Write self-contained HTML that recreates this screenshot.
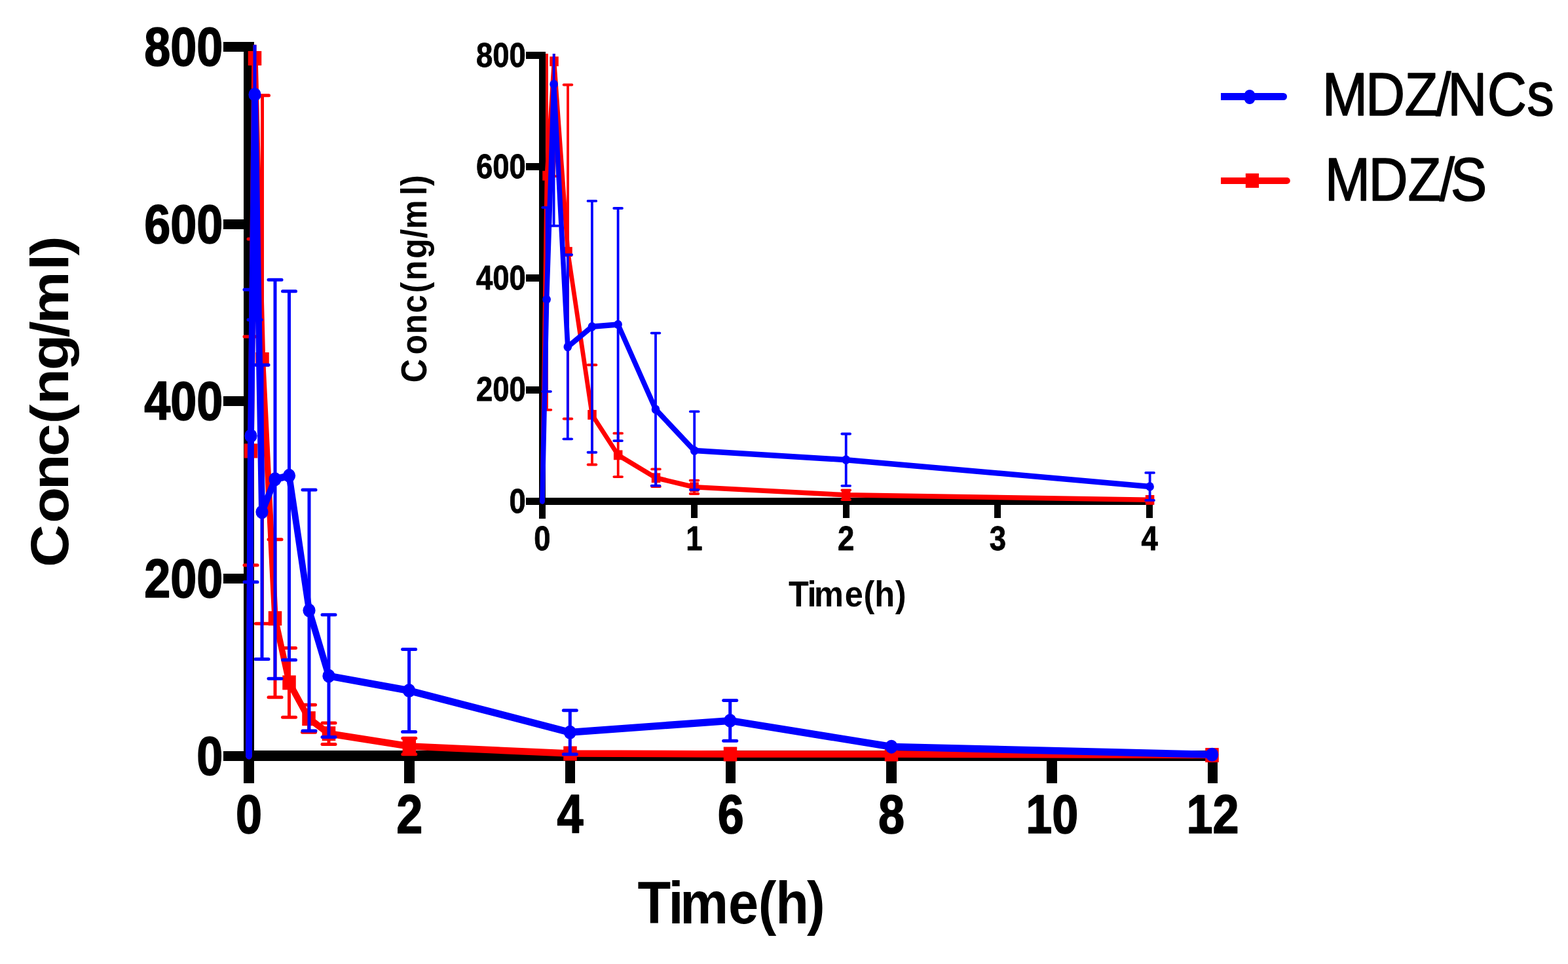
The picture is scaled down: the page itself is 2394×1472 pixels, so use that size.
<!DOCTYPE html><html><head><meta charset="utf-8"><style>html,body{margin:0;padding:0;background:#fff;overflow:hidden}svg{display:block}text{font-family:"Liberation Sans",Arial,sans-serif;fill:#000}</style></head><body>
<svg width="2394" height="1472" viewBox="0 0 2394 1472">
<rect width="2394" height="1472" fill="#fff"/>
<defs><clipPath id="cm"><rect x="300" y="68.5" width="1700" height="1200"/></clipPath><clipPath id="ci"><rect x="780" y="82" width="1100" height="800"/></clipPath></defs>
<g fill="#000" shape-rendering="crispEdges">
<rect x="372" y="64" width="16" height="1132"/>
<rect x="341" y="1146.50" width="32" height="15"/>
<rect x="341" y="875.84" width="32" height="15"/>
<rect x="341" y="605.18" width="32" height="15"/>
<rect x="341" y="334.51" width="32" height="15"/>
<rect x="341" y="63.85" width="32" height="15"/>
<rect x="372" y="1146" width="1487" height="16"/>
<rect x="372.25" y="1154" width="15.5" height="42"/>
<rect x="617.49" y="1154" width="15.5" height="42"/>
<rect x="862.73" y="1154" width="15.5" height="42"/>
<rect x="1107.97" y="1154" width="15.5" height="42"/>
<rect x="1353.21" y="1154" width="15.5" height="42"/>
<rect x="1598.45" y="1154" width="15.5" height="42"/>
<rect x="1843.69" y="1154" width="15.5" height="42"/>
</g>
<text transform="translate(340.30,1182.70) scale(0.72,0.838)" font-size="100" font-weight="bold" text-anchor="end" stroke="#000" stroke-width="2.0" stroke-linejoin="round">0</text>
<text transform="translate(340.30,912.04) scale(0.72,0.838)" font-size="100" font-weight="bold" text-anchor="end" stroke="#000" stroke-width="2.0" stroke-linejoin="round">200</text>
<text transform="translate(340.30,641.38) scale(0.72,0.838)" font-size="100" font-weight="bold" text-anchor="end" stroke="#000" stroke-width="2.0" stroke-linejoin="round">400</text>
<text transform="translate(340.30,370.71) scale(0.72,0.838)" font-size="100" font-weight="bold" text-anchor="end" stroke="#000" stroke-width="2.0" stroke-linejoin="round">600</text>
<text transform="translate(340.30,100.05) scale(0.72,0.838)" font-size="100" font-weight="bold" text-anchor="end" stroke="#000" stroke-width="2.0" stroke-linejoin="round">800</text>
<text transform="translate(380.00,1271.90) scale(0.72,0.838)" font-size="100" font-weight="bold" text-anchor="middle" stroke="#000" stroke-width="2.0" stroke-linejoin="round">0</text>
<text transform="translate(625.24,1271.90) scale(0.72,0.838)" font-size="100" font-weight="bold" text-anchor="middle" stroke="#000" stroke-width="2.0" stroke-linejoin="round">2</text>
<text transform="translate(870.48,1271.90) scale(0.72,0.838)" font-size="100" font-weight="bold" text-anchor="middle" stroke="#000" stroke-width="2.0" stroke-linejoin="round">4</text>
<text transform="translate(1115.72,1271.90) scale(0.72,0.838)" font-size="100" font-weight="bold" text-anchor="middle" stroke="#000" stroke-width="2.0" stroke-linejoin="round">6</text>
<text transform="translate(1360.96,1271.90) scale(0.72,0.838)" font-size="100" font-weight="bold" text-anchor="middle" stroke="#000" stroke-width="2.0" stroke-linejoin="round">8</text>
<text transform="translate(1606.20,1271.90) scale(0.72,0.838)" font-size="100" font-weight="bold" text-anchor="middle" stroke="#000" stroke-width="2.0" stroke-linejoin="round">10</text>
<text transform="translate(1851.44,1271.90) scale(0.72,0.838)" font-size="100" font-weight="bold" text-anchor="middle" stroke="#000" stroke-width="2.0" stroke-linejoin="round">12</text>
<text transform="translate(0,1409.80) scale(0.83000,0.91500)" x="1172.80 1229.41 1251.05 1339.79 1394.83 1426.78 1484.45" y="0" font-size="100" font-weight="bold">Time(h)</text>
<text transform="translate(103.90,0) rotate(-90) scale(0.90000,0.81500)" x="-962.20 -887.49 -831.36 -774.37 -719.09 -686.36 -628.35 -572.37 -549.39 -458.68 -433.73" y="0" font-size="100" font-weight="bold">Conc(ng/ml)</text>
<g clip-path="url(#cm)">
<line x1="383.00" y1="863.04" x2="383.00" y2="513.88" stroke="#ff0000" stroke-width="5"/>
<line x1="373.00" y1="863.04" x2="393.00" y2="863.04" stroke="#ff0000" stroke-width="5" stroke-linecap="round"/>
<line x1="373.00" y1="513.88" x2="393.00" y2="513.88" stroke="#ff0000" stroke-width="5" stroke-linecap="round"/>
<line x1="389.00" y1="365.02" x2="389.00" y2="-187.13" stroke="#ff0000" stroke-width="5"/>
<line x1="379.00" y1="365.02" x2="399.00" y2="365.02" stroke="#ff0000" stroke-width="5" stroke-linecap="round"/>
<line x1="379.00" y1="-187.13" x2="399.00" y2="-187.13" stroke="#ff0000" stroke-width="5" stroke-linecap="round"/>
<line x1="400.50" y1="952.36" x2="400.50" y2="145.78" stroke="#ff0000" stroke-width="5"/>
<line x1="390.50" y1="952.36" x2="410.50" y2="952.36" stroke="#ff0000" stroke-width="5" stroke-linecap="round"/>
<line x1="390.50" y1="145.78" x2="410.50" y2="145.78" stroke="#ff0000" stroke-width="5" stroke-linecap="round"/>
<line x1="420.00" y1="1064.68" x2="420.00" y2="823.79" stroke="#ff0000" stroke-width="5"/>
<line x1="410.00" y1="1064.68" x2="430.00" y2="1064.68" stroke="#ff0000" stroke-width="5" stroke-linecap="round"/>
<line x1="410.00" y1="823.79" x2="430.00" y2="823.79" stroke="#ff0000" stroke-width="5" stroke-linecap="round"/>
<line x1="441.50" y1="1095.13" x2="441.50" y2="989.57" stroke="#ff0000" stroke-width="5"/>
<line x1="431.50" y1="1095.13" x2="451.50" y2="1095.13" stroke="#ff0000" stroke-width="5" stroke-linecap="round"/>
<line x1="431.50" y1="989.57" x2="451.50" y2="989.57" stroke="#ff0000" stroke-width="5" stroke-linecap="round"/>
<line x1="471.50" y1="1118.14" x2="471.50" y2="1076.18" stroke="#ff0000" stroke-width="5"/>
<line x1="461.50" y1="1118.14" x2="481.50" y2="1118.14" stroke="#ff0000" stroke-width="5" stroke-linecap="round"/>
<line x1="461.50" y1="1076.18" x2="481.50" y2="1076.18" stroke="#ff0000" stroke-width="5" stroke-linecap="round"/>
<line x1="502.00" y1="1136.41" x2="502.00" y2="1103.93" stroke="#ff0000" stroke-width="5"/>
<line x1="492.00" y1="1136.41" x2="512.00" y2="1136.41" stroke="#ff0000" stroke-width="5" stroke-linecap="round"/>
<line x1="492.00" y1="1103.93" x2="512.00" y2="1103.93" stroke="#ff0000" stroke-width="5" stroke-linecap="round"/>
<line x1="624.80" y1="1151.70" x2="624.80" y2="1127.34" stroke="#ff0000" stroke-width="5"/>
<line x1="614.80" y1="1151.70" x2="634.80" y2="1151.70" stroke="#ff0000" stroke-width="5" stroke-linecap="round"/>
<line x1="614.80" y1="1127.34" x2="634.80" y2="1127.34" stroke="#ff0000" stroke-width="5" stroke-linecap="round"/>
<path transform="scale(0.9,1)" d="M422.22,1154.00 L425.56,688.46 L432.22,88.95 L445.00,549.07 L466.67,944.24 L490.56,1042.35 L523.89,1097.16 L557.78,1120.17 L694.22,1139.52 L967.22,1150.48 L1238.89,1151.50 L1512.22,1151.56 L2056.11,1153.05" fill="none" stroke="#ff0000" stroke-width="10.5" stroke-linejoin="round" stroke-linecap="round"/>
<rect x="372.75" y="677.46" width="20.5" height="22" fill="#ff0000"/>
<rect x="378.75" y="77.95" width="20.5" height="22" fill="#ff0000"/>
<rect x="390.25" y="538.07" width="20.5" height="22" fill="#ff0000"/>
<rect x="409.75" y="933.24" width="20.5" height="22" fill="#ff0000"/>
<rect x="431.25" y="1031.35" width="20.5" height="22" fill="#ff0000"/>
<rect x="461.25" y="1086.16" width="20.5" height="22" fill="#ff0000"/>
<rect x="491.75" y="1109.17" width="20.5" height="22" fill="#ff0000"/>
<rect x="614.55" y="1128.52" width="20.5" height="22" fill="#ff0000"/>
<rect x="860.25" y="1139.48" width="20.5" height="22" fill="#ff0000"/>
<rect x="1104.75" y="1140.50" width="20.5" height="22" fill="#ff0000"/>
<rect x="1350.75" y="1140.56" width="20.5" height="22" fill="#ff0000"/>
<rect x="1840.25" y="1142.05" width="20.5" height="22" fill="#ff0000"/>
</g>
<g clip-path="url(#cm)">
<line x1="383.00" y1="888.75" x2="383.00" y2="442.16" stroke="#0000ff" stroke-width="5.0"/>
<line x1="373.00" y1="888.75" x2="393.00" y2="888.75" stroke="#0000ff" stroke-width="5" stroke-linecap="round"/>
<line x1="373.00" y1="442.16" x2="393.00" y2="442.16" stroke="#0000ff" stroke-width="5" stroke-linecap="round"/>
<line x1="389.00" y1="488.17" x2="389.00" y2="-199.31" stroke="#0000ff" stroke-width="5.0"/>
<line x1="379.00" y1="488.17" x2="399.00" y2="488.17" stroke="#0000ff" stroke-width="5" stroke-linecap="round"/>
<line x1="379.00" y1="-199.31" x2="399.00" y2="-199.31" stroke="#0000ff" stroke-width="5" stroke-linecap="round"/>
<line x1="400.00" y1="1006.49" x2="400.00" y2="557.19" stroke="#0000ff" stroke-width="5.0"/>
<line x1="390.00" y1="1006.49" x2="410.00" y2="1006.49" stroke="#0000ff" stroke-width="5" stroke-linecap="round"/>
<line x1="390.00" y1="557.19" x2="410.00" y2="557.19" stroke="#0000ff" stroke-width="5" stroke-linecap="round"/>
<line x1="420.00" y1="1036.26" x2="420.00" y2="427.27" stroke="#0000ff" stroke-width="5.0"/>
<line x1="410.00" y1="1036.26" x2="430.00" y2="1036.26" stroke="#0000ff" stroke-width="5" stroke-linecap="round"/>
<line x1="410.00" y1="427.27" x2="430.00" y2="427.27" stroke="#0000ff" stroke-width="5" stroke-linecap="round"/>
<line x1="441.50" y1="1007.84" x2="441.50" y2="444.87" stroke="#0000ff" stroke-width="5.0"/>
<line x1="431.50" y1="1007.84" x2="451.50" y2="1007.84" stroke="#0000ff" stroke-width="5" stroke-linecap="round"/>
<line x1="431.50" y1="444.87" x2="451.50" y2="444.87" stroke="#0000ff" stroke-width="5" stroke-linecap="round"/>
<line x1="472.00" y1="1116.11" x2="472.00" y2="748.01" stroke="#0000ff" stroke-width="5.0"/>
<line x1="462.00" y1="1116.11" x2="482.00" y2="1116.11" stroke="#0000ff" stroke-width="5" stroke-linecap="round"/>
<line x1="462.00" y1="748.01" x2="482.00" y2="748.01" stroke="#0000ff" stroke-width="5" stroke-linecap="round"/>
<line x1="502.00" y1="1125.58" x2="502.00" y2="938.82" stroke="#0000ff" stroke-width="5.0"/>
<line x1="492.00" y1="1125.58" x2="512.00" y2="1125.58" stroke="#0000ff" stroke-width="5" stroke-linecap="round"/>
<line x1="492.00" y1="938.82" x2="512.00" y2="938.82" stroke="#0000ff" stroke-width="5" stroke-linecap="round"/>
<line x1="624.60" y1="1117.46" x2="624.60" y2="991.60" stroke="#0000ff" stroke-width="5.0"/>
<line x1="614.60" y1="1117.46" x2="634.60" y2="1117.46" stroke="#0000ff" stroke-width="5" stroke-linecap="round"/>
<line x1="614.60" y1="991.60" x2="634.60" y2="991.60" stroke="#0000ff" stroke-width="5" stroke-linecap="round"/>
<line x1="870.30" y1="1151.70" x2="870.30" y2="1084.85" stroke="#0000ff" stroke-width="5.0"/>
<line x1="860.30" y1="1151.70" x2="880.30" y2="1151.70" stroke="#0000ff" stroke-width="5" stroke-linecap="round"/>
<line x1="860.30" y1="1084.85" x2="880.30" y2="1084.85" stroke="#0000ff" stroke-width="5" stroke-linecap="round"/>
<line x1="1114.70" y1="1131.26" x2="1114.70" y2="1069.55" stroke="#0000ff" stroke-width="5.0"/>
<line x1="1104.70" y1="1131.26" x2="1124.70" y2="1131.26" stroke="#0000ff" stroke-width="5" stroke-linecap="round"/>
<line x1="1104.70" y1="1069.55" x2="1124.70" y2="1069.55" stroke="#0000ff" stroke-width="5" stroke-linecap="round"/>
<path transform="scale(0.9,1)" d="M422.22,1154.00 L425.56,665.46 L432.22,144.43 L444.44,781.84 L466.67,731.77 L490.56,726.35 L524.44,932.06 L557.78,1032.20 L694.00,1054.53 L967.00,1118.27 L1238.56,1100.41 L1512.22,1140.20 L2056.22,1152.24" fill="none" stroke="#0000ff" stroke-width="11" stroke-linejoin="round" stroke-linecap="round"/>
<ellipse cx="383.00" cy="665.46" rx="9.6" ry="10.5" fill="#0000ff"/>
<ellipse cx="389.00" cy="144.43" rx="9.6" ry="10.5" fill="#0000ff"/>
<ellipse cx="400.00" cy="781.84" rx="9.6" ry="10.5" fill="#0000ff"/>
<ellipse cx="420.00" cy="731.77" rx="9.6" ry="10.5" fill="#0000ff"/>
<ellipse cx="441.50" cy="726.35" rx="9.6" ry="10.5" fill="#0000ff"/>
<ellipse cx="472.00" cy="932.06" rx="9.6" ry="10.5" fill="#0000ff"/>
<ellipse cx="502.00" cy="1032.20" rx="9.6" ry="10.5" fill="#0000ff"/>
<ellipse cx="624.60" cy="1054.53" rx="9.6" ry="10.5" fill="#0000ff"/>
<ellipse cx="870.30" cy="1118.27" rx="9.6" ry="10.5" fill="#0000ff"/>
<ellipse cx="1114.70" cy="1100.41" rx="9.6" ry="10.5" fill="#0000ff"/>
<ellipse cx="1361.00" cy="1140.20" rx="9.6" ry="10.5" fill="#0000ff"/>
<ellipse cx="1850.60" cy="1152.24" rx="9.6" ry="10.5" fill="#0000ff"/>
</g>
<g fill="#000" shape-rendering="crispEdges">
<rect x="823" y="79" width="10" height="713"/>
<rect x="803" y="760.00" width="21" height="11"/>
<rect x="803" y="589.72" width="21" height="11"/>
<rect x="803" y="419.45" width="21" height="11"/>
<rect x="803" y="249.17" width="21" height="11"/>
<rect x="803" y="78.90" width="21" height="11"/>
<rect x="823" y="760.3" width="938" height="10.5"/>
<rect x="823.00" y="765" width="10" height="26.3"/>
<rect x="1054.80" y="765" width="10" height="26.3"/>
<rect x="1286.60" y="765" width="10" height="26.3"/>
<rect x="1518.40" y="765" width="10" height="26.3"/>
<rect x="1750.20" y="765" width="10" height="26.3"/>
</g>
<text transform="translate(802.80,782.70) scale(0.455,0.51)" font-size="100" font-weight="bold" text-anchor="end" stroke="#000" stroke-width="1.6" stroke-linejoin="round">0</text>
<text transform="translate(802.80,612.42) scale(0.455,0.51)" font-size="100" font-weight="bold" text-anchor="end" stroke="#000" stroke-width="1.6" stroke-linejoin="round">200</text>
<text transform="translate(802.80,442.15) scale(0.455,0.51)" font-size="100" font-weight="bold" text-anchor="end" stroke="#000" stroke-width="1.6" stroke-linejoin="round">400</text>
<text transform="translate(802.80,271.87) scale(0.455,0.51)" font-size="100" font-weight="bold" text-anchor="end" stroke="#000" stroke-width="1.6" stroke-linejoin="round">600</text>
<text transform="translate(802.80,101.60) scale(0.455,0.51)" font-size="100" font-weight="bold" text-anchor="end" stroke="#000" stroke-width="1.6" stroke-linejoin="round">800</text>
<text transform="translate(828.00,839.80) scale(0.455,0.51)" font-size="100" font-weight="bold" text-anchor="middle" stroke="#000" stroke-width="1.6" stroke-linejoin="round">0</text>
<text transform="translate(1059.80,839.80) scale(0.455,0.51)" font-size="100" font-weight="bold" text-anchor="middle" stroke="#000" stroke-width="1.6" stroke-linejoin="round">1</text>
<text transform="translate(1291.60,839.80) scale(0.455,0.51)" font-size="100" font-weight="bold" text-anchor="middle" stroke="#000" stroke-width="1.6" stroke-linejoin="round">2</text>
<text transform="translate(1523.40,839.80) scale(0.455,0.51)" font-size="100" font-weight="bold" text-anchor="middle" stroke="#000" stroke-width="1.6" stroke-linejoin="round">3</text>
<text transform="translate(1755.20,839.80) scale(0.455,0.51)" font-size="100" font-weight="bold" text-anchor="middle" stroke="#000" stroke-width="1.6" stroke-linejoin="round">4</text>
<text transform="translate(0,925.80) scale(0.50500,0.55600)" x="2383.98 2440.51 2461.37 2554.04 2610.77 2644.12 2706.41" y="0" font-size="100" font-weight="bold">Time(h)</text>
<text transform="translate(651.00,0) rotate(-90) scale(0.50000,0.55500)" x="-1168.40 -1083.24 -1020.45 -955.96 -894.53 -856.35 -789.34 -727.42 -699.37 -596.64 -568.18" y="0" font-size="100" font-weight="bold">Conc(ng/ml)</text>
<g clip-path="url(#ci)">
<line x1="835.00" y1="625.87" x2="835.00" y2="-256.16" stroke="#ff0000" stroke-width="3.8"/>
<line x1="828.65" y1="625.87" x2="841.35" y2="625.87" stroke="#ff0000" stroke-width="3.8" stroke-linecap="round"/>
<line x1="828.65" y1="-256.16" x2="841.35" y2="-256.16" stroke="#ff0000" stroke-width="3.8" stroke-linecap="round"/>
<line x1="846.00" y1="269.15" x2="846.00" y2="-81.62" stroke="#ff0000" stroke-width="3.8"/>
<line x1="839.65" y1="269.15" x2="852.35" y2="269.15" stroke="#ff0000" stroke-width="3.8" stroke-linecap="round"/>
<line x1="839.65" y1="-81.62" x2="852.35" y2="-81.62" stroke="#ff0000" stroke-width="3.8" stroke-linecap="round"/>
<line x1="867.00" y1="639.50" x2="867.00" y2="129.52" stroke="#ff0000" stroke-width="3.8"/>
<line x1="860.65" y1="639.50" x2="873.35" y2="639.50" stroke="#ff0000" stroke-width="3.8" stroke-linecap="round"/>
<line x1="860.65" y1="129.52" x2="873.35" y2="129.52" stroke="#ff0000" stroke-width="3.8" stroke-linecap="round"/>
<line x1="904.00" y1="709.48" x2="904.00" y2="557.25" stroke="#ff0000" stroke-width="3.8"/>
<line x1="897.65" y1="709.48" x2="910.35" y2="709.48" stroke="#ff0000" stroke-width="3.8" stroke-linecap="round"/>
<line x1="897.65" y1="557.25" x2="910.35" y2="557.25" stroke="#ff0000" stroke-width="3.8" stroke-linecap="round"/>
<line x1="943.70" y1="728.04" x2="943.70" y2="661.63" stroke="#ff0000" stroke-width="3.8"/>
<line x1="937.35" y1="728.04" x2="950.05" y2="728.04" stroke="#ff0000" stroke-width="3.8" stroke-linecap="round"/>
<line x1="937.35" y1="661.63" x2="950.05" y2="661.63" stroke="#ff0000" stroke-width="3.8" stroke-linecap="round"/>
<line x1="1001.50" y1="743.02" x2="1001.50" y2="716.46" stroke="#ff0000" stroke-width="3.8"/>
<line x1="995.15" y1="743.02" x2="1007.85" y2="743.02" stroke="#ff0000" stroke-width="3.8" stroke-linecap="round"/>
<line x1="995.15" y1="716.46" x2="1007.85" y2="716.46" stroke="#ff0000" stroke-width="3.8" stroke-linecap="round"/>
<line x1="1060.00" y1="754.01" x2="1060.00" y2="733.57" stroke="#ff0000" stroke-width="3.8"/>
<line x1="1053.65" y1="754.01" x2="1066.35" y2="754.01" stroke="#ff0000" stroke-width="3.8" stroke-linecap="round"/>
<line x1="1053.65" y1="733.57" x2="1066.35" y2="733.57" stroke="#ff0000" stroke-width="3.8" stroke-linecap="round"/>
<line x1="1291.70" y1="763.12" x2="1291.70" y2="748.47" stroke="#ff0000" stroke-width="3.8"/>
<line x1="1285.35" y1="763.12" x2="1298.05" y2="763.12" stroke="#ff0000" stroke-width="3.8" stroke-linecap="round"/>
<line x1="1285.35" y1="748.47" x2="1298.05" y2="748.47" stroke="#ff0000" stroke-width="3.8" stroke-linecap="round"/>
<path transform="scale(0.9,1)" d="M920.00,765.50 L927.78,268.29 L940.00,93.76 L963.33,384.51 L1004.44,633.37 L1048.56,694.84 L1112.78,729.74 L1177.78,743.79 L1435.22,755.79 L1950.67,763.37" fill="none" stroke="#ff0000" stroke-width="7.5" stroke-linejoin="round" stroke-linecap="round"/>
<rect x="828.25" y="260.89" width="13.5" height="14.8" fill="#ff0000"/>
<rect x="839.25" y="86.36" width="13.5" height="14.8" fill="#ff0000"/>
<rect x="860.25" y="377.11" width="13.5" height="14.8" fill="#ff0000"/>
<rect x="897.25" y="625.97" width="13.5" height="14.8" fill="#ff0000"/>
<rect x="936.95" y="687.44" width="13.5" height="14.8" fill="#ff0000"/>
<rect x="994.75" y="722.34" width="13.5" height="14.8" fill="#ff0000"/>
<rect x="1053.25" y="736.39" width="13.5" height="14.8" fill="#ff0000"/>
<rect x="1284.95" y="748.39" width="13.5" height="14.8" fill="#ff0000"/>
<rect x="1748.85" y="755.97" width="13.5" height="14.8" fill="#ff0000"/>
</g>
<g clip-path="url(#ci)">
<line x1="834.60" y1="597.78" x2="834.60" y2="316.82" stroke="#0000ff" stroke-width="3.8"/>
<line x1="828.25" y1="597.78" x2="840.95" y2="597.78" stroke="#0000ff" stroke-width="3.8" stroke-linecap="round"/>
<line x1="828.25" y1="316.82" x2="840.95" y2="316.82" stroke="#0000ff" stroke-width="3.8" stroke-linecap="round"/>
<line x1="845.60" y1="344.92" x2="845.60" y2="-87.58" stroke="#0000ff" stroke-width="3.8"/>
<line x1="839.25" y1="344.92" x2="851.95" y2="344.92" stroke="#0000ff" stroke-width="3.8" stroke-linecap="round"/>
<line x1="839.25" y1="-87.58" x2="851.95" y2="-87.58" stroke="#0000ff" stroke-width="3.8" stroke-linecap="round"/>
<line x1="866.80" y1="670.32" x2="866.80" y2="389.02" stroke="#0000ff" stroke-width="3.8"/>
<line x1="860.45" y1="670.32" x2="873.15" y2="670.32" stroke="#0000ff" stroke-width="3.8" stroke-linecap="round"/>
<line x1="860.45" y1="389.02" x2="873.15" y2="389.02" stroke="#0000ff" stroke-width="3.8" stroke-linecap="round"/>
<line x1="903.90" y1="690.75" x2="903.90" y2="306.95" stroke="#0000ff" stroke-width="3.8"/>
<line x1="897.55" y1="690.75" x2="910.25" y2="690.75" stroke="#0000ff" stroke-width="3.8" stroke-linecap="round"/>
<line x1="897.55" y1="306.95" x2="910.25" y2="306.95" stroke="#0000ff" stroke-width="3.8" stroke-linecap="round"/>
<line x1="943.60" y1="673.04" x2="943.60" y2="318.01" stroke="#0000ff" stroke-width="3.8"/>
<line x1="937.25" y1="673.04" x2="949.95" y2="673.04" stroke="#0000ff" stroke-width="3.8" stroke-linecap="round"/>
<line x1="937.25" y1="318.01" x2="949.95" y2="318.01" stroke="#0000ff" stroke-width="3.8" stroke-linecap="round"/>
<line x1="1001.00" y1="741.66" x2="1001.00" y2="508.55" stroke="#0000ff" stroke-width="3.8"/>
<line x1="994.65" y1="741.66" x2="1007.35" y2="741.66" stroke="#0000ff" stroke-width="3.8" stroke-linecap="round"/>
<line x1="994.65" y1="508.55" x2="1007.35" y2="508.55" stroke="#0000ff" stroke-width="3.8" stroke-linecap="round"/>
<line x1="1060.20" y1="747.79" x2="1060.20" y2="628.43" stroke="#0000ff" stroke-width="3.8"/>
<line x1="1053.85" y1="747.79" x2="1066.55" y2="747.79" stroke="#0000ff" stroke-width="3.8" stroke-linecap="round"/>
<line x1="1053.85" y1="628.43" x2="1066.55" y2="628.43" stroke="#0000ff" stroke-width="3.8" stroke-linecap="round"/>
<line x1="1291.70" y1="741.83" x2="1291.70" y2="662.48" stroke="#0000ff" stroke-width="3.8"/>
<line x1="1285.35" y1="741.83" x2="1298.05" y2="741.83" stroke="#0000ff" stroke-width="3.8" stroke-linecap="round"/>
<line x1="1285.35" y1="662.48" x2="1298.05" y2="662.48" stroke="#0000ff" stroke-width="3.8" stroke-linecap="round"/>
<line x1="1755.60" y1="763.97" x2="1755.60" y2="721.91" stroke="#0000ff" stroke-width="3.8"/>
<line x1="1749.25" y1="763.97" x2="1761.95" y2="763.97" stroke="#0000ff" stroke-width="3.8" stroke-linecap="round"/>
<line x1="1749.25" y1="721.91" x2="1761.95" y2="721.91" stroke="#0000ff" stroke-width="3.8" stroke-linecap="round"/>
<path transform="scale(0.9,1)" d="M920.00,765.50 L927.33,457.30 L939.56,128.67 L963.11,529.67 L1004.33,498.85 L1048.44,495.53 L1112.22,625.11 L1178.00,688.11 L1435.22,702.16 L1950.67,742.94" fill="none" stroke="#0000ff" stroke-width="8.5" stroke-linejoin="round" stroke-linecap="round"/>
<ellipse cx="834.60" cy="457.30" rx="6.3" ry="6.8" fill="#0000ff"/>
<ellipse cx="845.60" cy="128.67" rx="6.3" ry="6.8" fill="#0000ff"/>
<ellipse cx="866.80" cy="529.67" rx="6.3" ry="6.8" fill="#0000ff"/>
<ellipse cx="903.90" cy="498.85" rx="6.3" ry="6.8" fill="#0000ff"/>
<ellipse cx="943.60" cy="495.53" rx="6.3" ry="6.8" fill="#0000ff"/>
<ellipse cx="1001.00" cy="625.11" rx="6.3" ry="6.8" fill="#0000ff"/>
<ellipse cx="1060.20" cy="688.11" rx="6.3" ry="6.8" fill="#0000ff"/>
<ellipse cx="1291.70" cy="702.16" rx="6.3" ry="6.8" fill="#0000ff"/>
<ellipse cx="1755.60" cy="742.94" rx="6.3" ry="6.8" fill="#0000ff"/>
</g>
<rect x="1864" y="142" width="95.5" height="11" fill="#0000ff"/><circle cx="1959.5" cy="147.5" r="5.5" fill="#0000ff"/>
<ellipse cx="1908" cy="148" rx="9.15" ry="11.05" fill="#0000ff"/>
<rect x="1864" y="271" width="100.8" height="10" fill="#ff0000"/><circle cx="1964.8" cy="276" r="5" fill="#ff0000"/>
<rect x="1901.8" y="264.8" width="20.2" height="22" fill="#ff0000"/>
<text transform="translate(0,176.20) scale(0.83200,0.93500)" x="2426.31 2505.94 2577.67 2634.93 2656.65 2729.14 2801.88" y="0" font-size="100" font-weight="normal" stroke="#000" stroke-width="1.7" stroke-linejoin="round">MDZ/NCs</text>
<text transform="translate(0,306.20) scale(0.83200,0.93500)" x="2431.24 2511.41 2583.62 2641.60 2661.89" y="0" font-size="100" font-weight="normal" stroke="#000" stroke-width="1.7" stroke-linejoin="round">MDZ/S</text>
</svg></body></html>
